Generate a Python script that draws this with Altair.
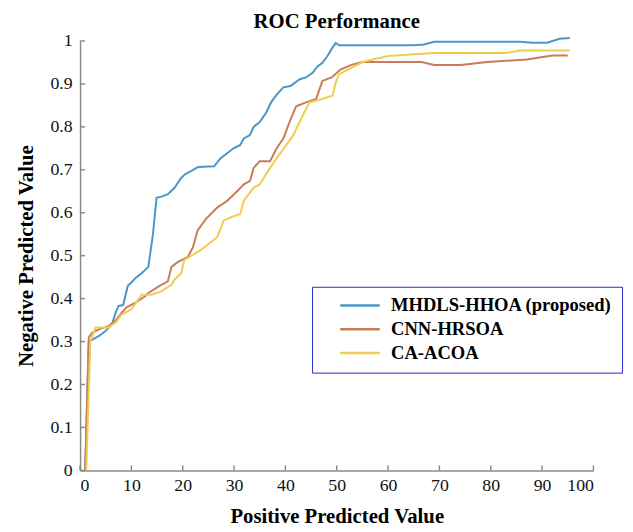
import altair as alt
import pandas as pd

series_names = ["MHDLS-HHOA (proposed)", "CNN-HRSOA", "CA-ACOA"]
series_colors = ["#4a96c8", "#c97b5a", "#f0cc50"]

blue_x = [1.0, 1.7, 3.7, 5.0, 6.2, 7.0, 7.5, 8.4, 9.3, 10.2, 10.7, 12.0, 13.3, 14.2, 14.9, 16.0,
          17.1, 18.4, 19.7, 20.5, 21.6, 22.9, 24.0, 26.1, 27.4, 28.7, 29.9, 31.2, 31.9, 33.1,
          33.8, 35.0, 36.3, 37.2, 38.3, 39.6, 41.0, 42.8, 44.0, 45.3, 46.2, 47.2, 48.2, 49.2,
          49.8, 50.5, 52.0, 55.0, 60.0, 65.0, 67.0, 69.0, 75.0, 80.0, 85.8, 88.0, 91.0, 93.4, 95.4]
blue_y = [0.0, 0.30, 0.313, 0.325, 0.34, 0.37, 0.383, 0.385, 0.43, 0.44, 0.447, 0.459, 0.474,
          0.55, 0.635, 0.638, 0.643, 0.658, 0.681, 0.69, 0.697, 0.706, 0.707, 0.708, 0.727,
          0.739, 0.75, 0.758, 0.773, 0.781, 0.80, 0.811, 0.834, 0.857, 0.875, 0.892, 0.895,
          0.911, 0.915, 0.926, 0.94, 0.949, 0.965, 0.985, 0.995, 0.99, 0.99, 0.99, 0.99, 0.99,
          0.992, 0.998, 0.998, 0.998, 0.998, 0.996, 0.996, 1.005, 1.007]

brown_x = [1.0, 1.7, 2.4, 4.0, 5.6, 7.0, 8.1, 9.0, 10.7, 12.6, 13.3, 15.8, 16.5, 17.1, 17.8,
           19.0, 21.0, 22.0, 22.9, 24.5, 26.7, 28.7, 30.6, 31.9, 33.1, 33.8, 35.0, 37.0, 38.3,
           39.6, 40.8, 42.1, 44.0, 46.0, 47.2, 49.0, 50.8, 53.0, 55.0, 60.0, 66.5, 69.0, 74.2,
           79.3, 87.0, 92.0, 95.0]
brown_y = [0.0, 0.31, 0.321, 0.33, 0.336, 0.35, 0.367, 0.379, 0.39, 0.405, 0.413, 0.432, 0.436,
           0.44, 0.474, 0.485, 0.497, 0.52, 0.559, 0.585, 0.612, 0.628, 0.65, 0.666, 0.674,
           0.704, 0.72, 0.72, 0.75, 0.773, 0.811, 0.848, 0.857, 0.865, 0.907, 0.915, 0.934,
           0.945, 0.951, 0.951, 0.951, 0.944, 0.944, 0.951, 0.957, 0.966, 0.966]

yellow_x = [1.2, 2.0, 3.0, 5.6, 7.0, 8.1, 10.0, 12.0, 13.9, 15.8, 17.8, 18.4, 19.7, 20.3, 23.5,
            26.7, 28.0, 29.5, 31.2, 31.9, 33.8, 35.0, 36.6, 38.3, 40.2, 41.5, 43.4, 44.7, 47.2,
            49.2, 49.8, 50.4, 55.0, 60.0, 69.0, 83.0, 85.8, 95.4]
yellow_y = [0.0, 0.30, 0.333, 0.333, 0.345, 0.363, 0.375, 0.409, 0.409, 0.417, 0.432, 0.444,
            0.459, 0.49, 0.513, 0.543, 0.582, 0.59, 0.597, 0.628, 0.658, 0.666, 0.697, 0.727,
            0.758, 0.78, 0.827, 0.857, 0.865, 0.873, 0.903, 0.922, 0.951, 0.965, 0.972, 0.972,
            0.978, 0.978]

x_ticks = [0, 10, 20, 30, 40, 50, 60, 70, 80, 90, 100]
y_ticks = [0, 0.1, 0.2, 0.3, 0.4, 0.5, 0.6, 0.7, 0.8, 0.9, 1]

rows = []
for name, xs, ys in zip(series_names, [blue_x, brown_x, yellow_x], [blue_y, brown_y, yellow_y]):
    for i, (a, b) in enumerate(zip(xs, ys)):
        rows.append({"series": name, "x": a, "y": b, "order": i})
df = pd.DataFrame(rows)

W, H = 520, 435
FONT = "Liberation Serif, Times New Roman, serif"
AXIS_GRAY = "#8a8a8a"

x_scale = alt.Scale(domain=[0, 100], nice=False)
y_scale = alt.Scale(domain=[0, 1], nice=False)

lines = alt.Chart(df).mark_line(strokeWidth=2).encode(
    x=alt.X("x:Q", scale=x_scale,
            axis=alt.Axis(values=x_ticks, title="Positive Predicted Value", format="d",
                          labelOverlap=False, labelFont=FONT, labelFontSize=18,
                          labelFontWeight="normal")),
    y=alt.Y("y:Q", scale=y_scale,
            axis=alt.Axis(values=y_ticks, title="Negative Predicted Value", format="~g",
                          labelOverlap=False, labelFont=FONT, labelFontSize=18,
                          labelFontWeight="normal")),
    color=alt.Color("series:N",
                    scale=alt.Scale(domain=series_names, range=series_colors),
                    legend=alt.Legend(title=None, orient="none", legendX=235, legendY=249,
                                      symbolType="stroke", symbolSize=1600,
                                      symbolStrokeWidth=2.5, labelFont=FONT,
                                      labelFontSize=18.8, labelFontWeight="bold",
                                      labelColor="black", strokeColor="#2a2ad0",
                                      fillColor="white", padding=10, symbolOffset=17,
                                      labelOffset=10, rowPadding=5, clipHeight=18,
                                      labelLimit=400)),
    order="order:Q",
)

xt = alt.Chart(pd.DataFrame({"v": x_ticks})).mark_rule(color=AXIS_GRAY, strokeWidth=1.5).encode(
    x=alt.X("v:Q", scale=x_scale), y=alt.value(H), y2=alt.value(H - 5))
yt = alt.Chart(pd.DataFrame({"v": y_ticks})).mark_rule(color=AXIS_GRAY, strokeWidth=1.5).encode(
    y=alt.Y("v:Q", scale=y_scale), x=alt.value(0), x2=alt.value(5))

chart = alt.layer(lines, xt, yt).properties(
    width=W, height=H,
    title=alt.Title("ROC Performance", font=FONT, fontSize=21, fontWeight="bold",
                    color="black", offset=0),
    autosize=alt.AutoSizeParams(type="none"),
    padding={"left": 73, "top": 30, "right": 32, "bottom": 58},
).configure_view(stroke=None).configure_axis(
    grid=False, ticks=False, domainColor=AXIS_GRAY, domainWidth=1.5,
    labelFont=FONT, labelFontSize=18, labelColor="#111111",
    titleFont=FONT, titleFontSize=21, titleFontWeight="bold", titleColor="black",
).configure_axisX(labelPadding=6, titlePadding=12).configure_axisY(labelPadding=8, titlePadding=14)

chart.save("out.html", embed_options={"renderer": "svg", "actions": False})
